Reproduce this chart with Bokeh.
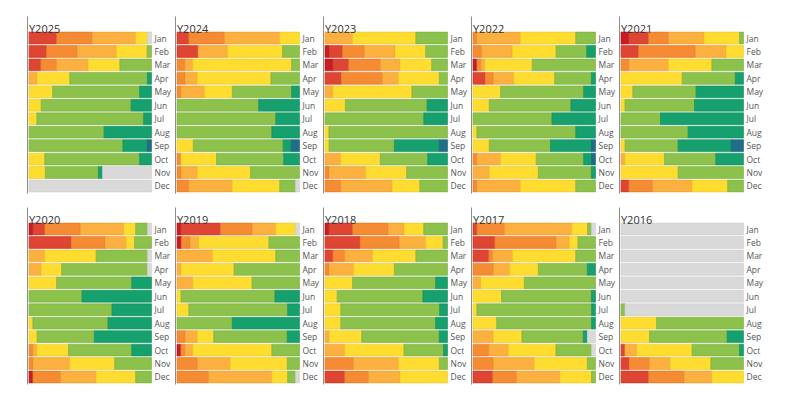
from bokeh.plotting import figure
from bokeh.models import Range1d, LinearAxis, FixedTicker, Label, ColumnDataSource, Spacer
from bokeh.layouts import row, column
from bokeh.embed import file_html
from bokeh.resources import INLINE

months = ["Jan", "Feb", "Mar", "Apr", "May", "Jun", "Jul", "Aug", "Sep", "Oct", "Nov", "Dec"]
categories = ["Hazardous", "Very Unhealthy", "Unhealthy", "Unhealthy (Sensitive)",
              "Moderate", "Good", "Very Good", "Excellent", "No Data"]
colors = ["#c81d25", "#df4533", "#f58b33", "#fbb03f", "#fedc30", "#8cc14b", "#16a06d", "#1f6e88", "#d9d9d9"]
edges = ["#a8121a", "#c43424", "#de7626", "#e99b2e", "#eec624", "#78ab3c", "#0f8a5c", "#175a72", "#cccccc"]

# days per category for each month (columns follow `categories`)
y2025 = [[0, 7, 9, 11, 3, 0, 0, 0, 1], [0, 4, 7, 9, 7, 1, 0, 0, 0], [0, 3, 4, 8, 8, 8, 0, 0, 0],
         [0, 0, 0, 2, 8, 19, 1, 0, 0], [0, 0, 0, 0, 6, 22, 3, 0, 0], [0, 0, 0, 0, 3, 22, 5, 0, 0],
         [0, 0, 0, 0, 2, 27, 2, 0, 0], [0, 0, 0, 0, 0, 19, 12, 0, 0], [0, 0, 0, 0, 0, 23, 6, 1, 0],
         [0, 0, 0, 0, 4, 24, 3, 0, 0], [0, 0, 0, 0, 4, 13, 1, 0, 12], [0, 0, 0, 0, 0, 0, 0, 0, 31]]
y2024 = [[0, 3, 9, 14, 5, 0, 0, 0, 0], [0, 5, 0, 7, 13, 4, 0, 0, 0], [0, 0, 2, 2, 25, 2, 0, 0, 0],
         [0, 0, 2, 3, 18, 7, 0, 0, 0], [0, 0, 1, 6, 7, 15, 2, 0, 0], [0, 0, 0, 0, 0, 20, 10, 0, 0],
         [0, 0, 0, 0, 0, 25, 6, 0, 0], [0, 0, 0, 0, 0, 24, 7, 0, 0], [0, 0, 0, 0, 4, 22, 2, 2, 0],
         [0, 0, 1, 0, 9, 17, 4, 0, 0], [0, 0, 1, 4, 13, 12, 0, 0, 0], [0, 0, 3, 11, 12, 4, 0, 0, 1]]
y2023 = [[0, 0, 0, 7, 16, 8, 0, 0, 0], [1, 3, 5, 7, 7, 5, 0, 0, 0], [2, 4, 8, 5, 8, 4, 0, 0, 0],
         [0, 4, 10, 4, 10, 2, 0, 0, 0], [0, 0, 0, 2, 20, 9, 0, 0, 0], [0, 0, 0, 0, 5, 20, 5, 0, 0],
         [0, 0, 0, 0, 0, 25, 6, 0, 0], [0, 0, 0, 0, 1, 30, 0, 0, 0], [0, 0, 0, 0, 1, 16, 11, 2, 0],
         [0, 0, 0, 4, 10, 12, 5, 0, 0], [0, 0, 1, 9, 10, 10, 0, 0, 0], [0, 0, 4, 13, 7, 7, 0, 0, 0]]
y2022 = [[0, 0, 1, 11, 14, 5, 0, 0, 0], [0, 0, 2, 7, 10, 7, 2, 0, 0], [1, 0, 1, 1, 12, 16, 0, 0, 0],
         [0, 3, 2, 5, 10, 9, 1, 0, 0], [0, 0, 0, 0, 7, 21, 3, 0, 0], [0, 0, 0, 0, 4, 20, 6, 0, 0],
         [0, 0, 0, 0, 0, 20, 11, 0, 0], [0, 0, 0, 0, 1, 25, 5, 0, 0], [0, 0, 0, 0, 4, 15, 10, 1, 0],
         [0, 0, 1, 6, 9, 12, 2, 1, 0], [0, 0, 0, 4, 12, 13, 1, 0, 0], [0, 0, 1, 11, 14, 5, 0, 0, 0]]
y2021 = [[2, 5, 5, 9, 9, 1, 0, 0, 0], [0, 4, 13, 7, 4, 0, 0, 0, 0], [0, 0, 2, 10, 11, 8, 0, 0, 0],
         [0, 0, 0, 0, 15, 13, 2, 0, 0], [0, 0, 0, 0, 3, 16, 12, 0, 0], [0, 0, 0, 0, 1, 17, 12, 0, 0],
         [0, 0, 0, 0, 0, 10, 21, 0, 0], [0, 0, 0, 0, 0, 17, 14, 0, 0], [0, 0, 0, 0, 1, 13, 13, 3, 0],
         [0, 0, 0, 1, 10, 13, 7, 0, 0], [0, 0, 0, 0, 14, 16, 0, 0, 0], [0, 2, 6, 10, 9, 4, 0, 0, 0]]
y2020 = [[1, 3, 9, 11, 3, 3, 0, 0, 1], [0, 10, 8, 5, 2, 4, 0, 0, 0], [0, 0, 0, 4, 13, 13, 0, 0, 1],
         [0, 0, 0, 3, 5, 21, 0, 0, 1], [0, 0, 0, 0, 7, 19, 5, 0, 0], [0, 0, 0, 0, 0, 13, 17, 0, 0],
         [0, 0, 0, 0, 0, 21, 10, 0, 0], [0, 0, 0, 0, 1, 19, 11, 0, 0], [0, 0, 0, 0, 2, 14, 14, 0, 0],
         [0, 0, 1, 1, 8, 16, 5, 0, 0], [0, 0, 1, 9, 11, 9, 0, 0, 0], [1, 0, 7, 9, 10, 4, 0, 0, 0]]
y2019 = [[1, 10, 8, 6, 5, 0, 0, 0, 1], [1, 0, 2, 2, 16, 7, 0, 0, 0], [0, 0, 0, 9, 16, 6, 0, 0, 0],
         [0, 0, 0, 1, 13, 16, 0, 0, 0], [0, 0, 0, 4, 15, 12, 0, 0, 0], [0, 0, 0, 0, 1, 23, 6, 0, 0],
         [0, 0, 0, 0, 3, 25, 3, 0, 0], [0, 0, 0, 0, 0, 14, 17, 0, 0], [0, 0, 2, 3, 4, 18, 3, 0, 0],
         [1, 0, 1, 2, 20, 7, 0, 0, 0], [0, 0, 5, 8, 14, 3, 0, 0, 0], [0, 0, 8, 16, 4, 2, 0, 0, 1]]
y2018 = [[1, 6, 9, 4, 5, 6, 0, 0, 0], [0, 8, 9, 6, 4, 1, 0, 0, 0], [0, 2, 3, 7, 11, 8, 0, 0, 0],
         [0, 0, 1, 6, 10, 13, 0, 0, 0], [0, 0, 0, 0, 7, 21, 3, 0, 0], [0, 0, 0, 0, 3, 21, 6, 0, 0],
         [0, 0, 0, 0, 4, 25, 2, 0, 0], [0, 0, 0, 0, 4, 24, 3, 0, 0], [0, 0, 0, 1, 8, 19, 2, 0, 0],
         [0, 0, 0, 5, 15, 10, 1, 0, 0], [0, 0, 7, 11, 10, 2, 0, 0, 0], [0, 5, 6, 8, 12, 0, 0, 0, 0]]
y2017 = [[0, 1, 7, 17, 4, 1, 0, 0, 1], [0, 5, 14, 3, 2, 4, 0, 0, 0], [0, 4, 1, 5, 16, 5, 0, 0, 0],
         [0, 0, 5, 4, 7, 12, 2, 0, 0], [0, 0, 0, 2, 11, 18, 0, 0, 0], [0, 0, 0, 0, 7, 22, 1, 0, 0],
         [0, 0, 0, 0, 1, 29, 1, 0, 0], [0, 0, 0, 0, 6, 24, 1, 0, 0], [0, 0, 0, 5, 7, 15, 1, 0, 2],
         [0, 0, 4, 5, 12, 9, 0, 0, 1], [0, 0, 5, 10, 13, 2, 0, 0, 0], [0, 5, 6, 11, 8, 1, 0, 0, 0]]
y2016 = [[0, 0, 0, 0, 0, 0, 0, 0, 31], [0, 0, 0, 0, 0, 0, 0, 0, 29], [0, 0, 0, 0, 0, 0, 0, 0, 31],
         [0, 0, 0, 0, 0, 0, 0, 0, 30], [0, 0, 0, 0, 0, 0, 0, 0, 31], [0, 0, 0, 0, 0, 0, 0, 0, 30],
         [0, 0, 0, 0, 0, 1, 0, 0, 30], [0, 0, 0, 0, 9, 22, 0, 0, 0], [0, 0, 0, 0, 7, 19, 4, 0, 0],
         [0, 1, 0, 3, 14, 12, 1, 0, 0], [0, 2, 5, 5, 10, 8, 0, 0, 0], [0, 7, 9, 7, 8, 0, 0, 0, 0]]

years = ["Y2025", "Y2024", "Y2023", "Y2022", "Y2021", "Y2020", "Y2019", "Y2018", "Y2017", "Y2016"]
year_data = [y2025, y2024, y2023, y2022, y2021, y2020, y2019, y2018, y2017, y2016]

FONT = "Open Sans"


def make_panel(name, rows, top_border):
    ys, lefts, rights, fills, lines = [], [], [], [], []
    for m, counts in enumerate(rows):
        total = float(sum(counts))
        cum = 0.0
        for c, n in enumerate(counts):
            if n <= 0:
                continue
            ys.append(m)
            lefts.append(cum / total * 100.0)
            cum += n
            rights.append(cum / total * 100.0)
            fills.append(colors[c])
            lines.append(edges[c])
    src = ColumnDataSource(dict(y=ys, left=lefts, right=rights, fill=fills, line=lines))

    p = figure(width=148, height=177 + top_border + 6, output_backend="svg", toolbar_location=None,
               x_range=Range1d(-1.2, 100.8), y_range=Range1d(11.56, -1.6),
               x_axis_location=None, y_axis_location=None,
               min_border_left=1, min_border_right=19, min_border_top=top_border, min_border_bottom=6)
    p.outline_line_color = None
    p.xgrid.grid_line_color = None
    p.ygrid.grid_line_color = None
    p.background_fill_color = "white"
    p.border_fill_color = "white"

    p.hbar(y="y", left="left", right="right", height=0.88, source=src,
           fill_color="fill", line_color="line", line_width=0.6)

    left_ax = LinearAxis(ticker=FixedTicker(ticks=[]), axis_line_color="#8c8c8c", axis_line_width=1,
                         major_tick_line_color=None, minor_tick_line_color=None,
                         major_label_text_font_size="0px", major_label_standoff=0,
                         major_tick_out=0, minor_tick_out=0)
    p.add_layout(left_ax, "left")

    right_ax = LinearAxis(ticker=FixedTicker(ticks=list(range(12))),
                          major_label_overrides={i: mo for i, mo in enumerate(months)},
                          axis_line_color=None, major_tick_line_color=None, minor_tick_line_color=None,
                          major_tick_out=0, minor_tick_out=0, major_label_standoff=2,
                          major_label_text_font=FONT, major_label_text_font_size="8.5px",
                          major_label_text_color="#555555")
    p.add_layout(right_ax, "right")

    p.add_layout(Label(x=0, y=-0.74, text=name, text_font=FONT, text_font_size="11px",
                       text_color="#333333", text_align="left", text_baseline="alphabetic"))
    return p


figs = [make_panel(n, d, 16 if i < 5 else 8) for i, (n, d) in enumerate(zip(years, year_data))]
r1 = row(Spacer(width=26, height=199), *figs[:5])
r2 = row(Spacer(width=26, height=191), *figs[5:])
layout = column(r1, r2)

open("out.html", "w").write(file_html(layout, INLINE))
